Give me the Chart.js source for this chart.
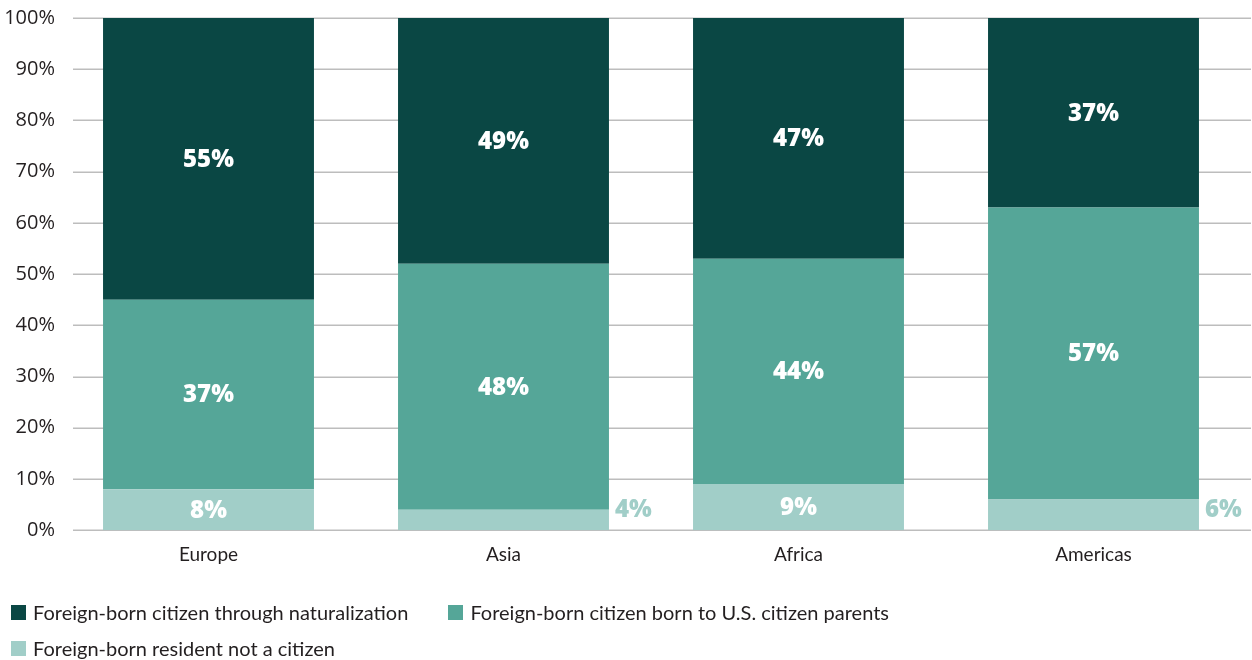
<!DOCTYPE html>
<html>
<head>
<meta charset="utf-8">
<script src="https://cdn.jsdelivr.net/npm/chart.js@4/dist/chart.umd.min.js"></script>
<style>
  html, body { margin: 0; padding: 0; background: #fff; overflow: hidden; }
  #wrap { position: relative; width: 1252px; height: 660px; }
  canvas { display: block; }
  #legend { position: absolute; left: 11px; top: 594px; width: 1000px;
            font-family: Lato, sans-serif; font-size: 20px; color: #231f20; }
  .item { display: inline-flex; align-items: center; height: 36px; margin-right: 40px; }
  .box { width: 15px; height: 15px; margin-right: 7px; }
</style>
</head>
<body>
<div id="wrap">
  <canvas id="chartContainer" width="1252" height="660"></canvas>
  <div id="legend"></div>
</div>
<script>
var categories = ['Europe', 'Asia', 'Africa', 'Americas'];
var notCitizen = [8, 4, 9, 6];
var parentsCitizen = [37, 48, 44, 57];
var naturalized = [55, 49, 47, 37];
var seriesNames = [
    'Foreign-born resident not a citizen',
    'Foreign-born citizen born to U.S. citizen parents',
    'Foreign-born citizen through naturalization'
];
var seriesColours = ['#a1cec8', '#55a698', '#0a4744'];

// horizontal grid lines, a bit offset from the plot area like the original
var gridLines = {
    id: 'gridLines',
    beforeDatasetsDraw: function(chart){
        var ctx = chart.ctx;
        var y = chart.scales.y;
        ctx.save();
        ctx.strokeStyle = '#bdbdbd';
        ctx.lineWidth = 1.5;
        y.ticks.forEach(function(t){
            var py = Math.round(y.getPixelForValue(t.value)) + 0.25;
            ctx.beginPath();
            ctx.moveTo(73, py);
            ctx.lineTo(chart.width - 1, py);
            ctx.stroke();
        });
        ctx.restore();
    }
};

// percent labels on the segments
var barLabels = {
    id: 'barLabels',
    afterDatasetsDraw: function(chart){
        var ctx = chart.ctx;
        var top = chart.chartArea.top;
        ctx.save();
        ctx.font = '800 24px "Open Sans", sans-serif';
        ctx.textBaseline = 'middle';
        chart.data.datasets.forEach(function(ds, d){
            var meta = chart.getDatasetMeta(d);
            meta.data.forEach(function(bar, i){
                var value = ds.data[i];
                var yTop = Math.max(bar.y, top);
                if (d == 0 && value < 7){
                    ctx.fillStyle = seriesColours[0];
                    ctx.textAlign = 'left';
                    ctx.fillText(value + '%', bar.x + bar.width / 2 + 6, bar.base - 20);
                } else {
                    ctx.fillStyle = '#ffffff';
                    ctx.textAlign = 'center';
                    ctx.fillText(value + '%', bar.x, (yTop + bar.base) / 2 + 1);
                }
            });
        });
        ctx.restore();
    }
};

var datasets = [notCitizen, parentsCitizen, naturalized].map(function(vals, i){
    return {
        label: seriesNames[i],
        data: vals,
        backgroundColor: seriesColours[i],
        borderWidth: 0,
        clip: 0,
        categoryPercentage: 1,
        barPercentage: 0.715
    };
});

var myChart = new Chart('chartContainer', {
    type: 'bar',
    data: { labels: categories, datasets: datasets },
    plugins: [gridLines, barLabels],
    options: {
        responsive: false,
        animation: false,
        layout: { padding: { top: 18, right: 11, bottom: 89, left: 0 } },
        plugins: {
            legend: { display: false },
            tooltip: { enabled: false }
        },
        scales: {
            x: {
                stacked: true,
                grid: { display: false },
                border: { display: false },
                ticks: { color: '#231f20', padding: 5, font: { family: 'Lato', size: 19 } }
            },
            y: {
                stacked: true,
                min: 0,
                max: 100,
                afterFit: function(scale){ scale.width = 61; },
                grid: { display: false },
                border: { display: false },
                ticks: {
                    stepSize: 10,
                    padding: -2,
                    color: '#231f20',
                    font: { family: 'Open Sans', size: 20 },
                    callback: function(v){ return v + '%'; }
                }
            }
        }
    }
});

// legend: darkest series first, like the original
var legendHTML = '';
for (var i = seriesNames.length - 1; i >= 0; i--){
    legendHTML += '<span class="item"><span class="box" style="background:' + seriesColours[i] + '"></span>' + seriesNames[i] + '</span>';
    if (i == 1) legendHTML += '<br>';
}
document.getElementById('legend').innerHTML = legendHTML;
</script>
</body>
</html>
